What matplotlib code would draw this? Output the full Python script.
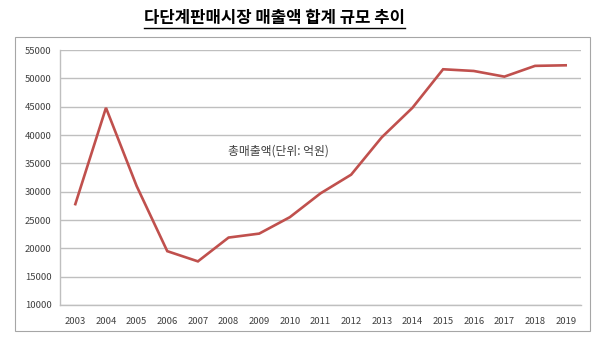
import matplotlib
matplotlib.use("Agg")
import matplotlib.pyplot as plt
from matplotlib.patches import Rectangle
from matplotlib.lines import Line2D

plt.rcParams['font.family'] = ['Noto Sans CJK KR', 'DejaVu Sans']

# 연도별 매출액 (억원)
years = [str(y) for y in range(2003, 2020)]
sales = [27800, 44800, 31000, 19500, 17700, 21900, 22600, 25500, 29700,
         33000, 39600, 44800, 51600, 51300, 50300, 52200, 52300]
y_ticks = list(range(10000, 55001, 5000))

fig = plt.figure(figsize=(6.02, 3.45), dpi=100)

# 차트 테두리
fig.patches.append(Rectangle((15 / 602, 1 - 331 / 345), 575 / 602, 294 / 345,
                             transform=fig.transFigure, fill=False,
                             edgecolor='#a6a6a6', linewidth=0.8))

ax = fig.add_axes([60 / 602, 1 - 305 / 345, 521 / 602, 255 / 345])
x = list(range(len(years)))
ax.plot(x, sales, color='#c0504d', linewidth=1.9, solid_joinstyle='miter')

ax.set_xlim(-0.5, len(years) - 0.5)
ax.set_ylim(10000, 55000)
ax.set_xticks(x)
ax.set_xticklabels(years)
ax.set_yticks(y_ticks)
ax.set_yticklabels([str(v) for v in y_ticks])
ax.tick_params(length=0, labelsize=6.8, colors='#404040', pad=6)
ax.tick_params(axis='x', pad=9)
ax.grid(axis='y', color='#bfbfbf', linewidth=1)
ax.set_axisbelow(True)
for side in ['top', 'right']:
    ax.spines[side].set_visible(False)
for side in ['left', 'bottom']:
    ax.spines[side].set_color('#bfbfbf')
    ax.spines[side].set_linewidth(1)

ax.text(0.42, 0.605, '총매출액(단위: 억원)', transform=ax.transAxes,
        ha='center', va='center', fontsize=8.5, color='#404040')

# 제목 + 밑줄
title = fig.text(274 / 602, 1 - 18 / 345, '다단계판매시장 매출액 합계 규모 추이',
                 ha='center', va='center', fontsize=12, fontweight='bold')
fig.canvas.draw()
bb = title.get_window_extent().transformed(fig.transFigure.inverted())
fig.lines.append(Line2D([bb.x0, bb.x1], [bb.y0 - 0.004, bb.y0 - 0.004],
                        transform=fig.transFigure, color='black', linewidth=1))

fig.savefig('out.png', dpi=100)
